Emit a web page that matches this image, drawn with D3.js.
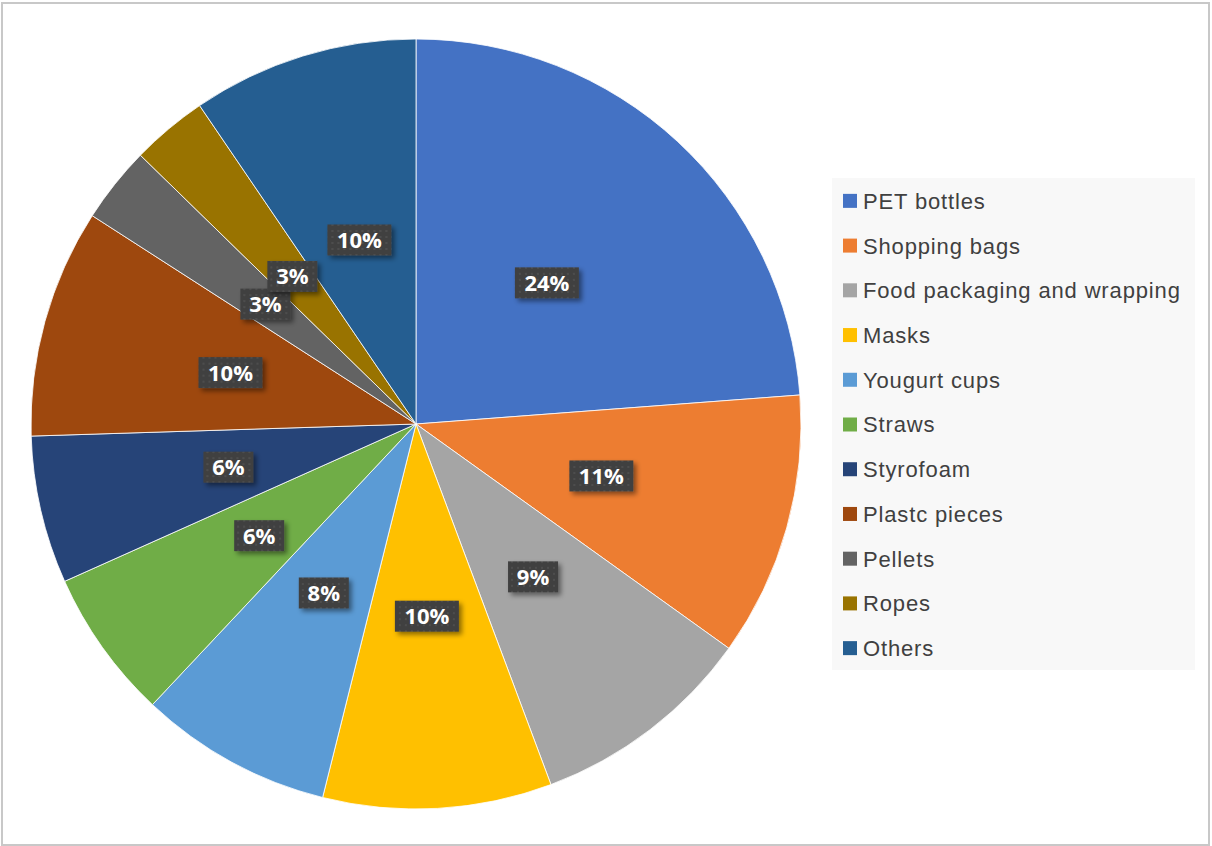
<!DOCTYPE html>
<html>
<head>
<meta charset="utf-8">
<title>Plastic litter composition</title>
<script src="https://d3js.org/d3.v7.min.js"></script>
<style>
  body { margin: 0; background: #fff; }
</style>
</head>
<body>
<svg id="chart" width="1212" height="846"></svg>
<script>
// categories and shares (%)
var categories = ["PET bottles", "Shopping bags", "Food packaging and wrapping", "Masks",
                  "Yougurt cups", "Straws", "Styrofoam", "Plastc pieces", "Pellets", "Ropes", "Others"];
var values = [23.8, 11.1, 9.4, 9.6, 8.1, 6.3, 6.2, 9.6, 3.2, 3.2, 9.5];
var colors = ["#4472C4", "#ED7D31", "#A5A5A5", "#FFC000", "#5B9BD5", "#70AD47",
              "#264478", "#9E480E", "#636363", "#997300", "#255E91"];

var svg = d3.select("#chart");
var total = d3.sum(values);

// outer frame
svg.append("rect")
    .attr("x", 2).attr("y", 3)
    .attr("width", 1207).attr("height", 842)
    .attr("fill", "none")
    .attr("stroke", "#c8c8c8")
    .attr("stroke-width", 2);

var defs = svg.append("defs");
var pat = defs.append("pattern")
    .attr("id", "dots")
    .attr("width", 6).attr("height", 6)
    .attr("patternUnits", "userSpaceOnUse");
pat.append("rect").attr("width", 6).attr("height", 6).attr("fill", "#404040");
pat.append("rect").attr("x", 2).attr("y", 2).attr("width", 2).attr("height", 2).attr("fill", "#4e4e4e");

var shadow = defs.append("filter").attr("id", "shadow")
    .attr("x", "-20%").attr("y", "-20%").attr("width", "150%").attr("height", "160%");
shadow.append("feDropShadow")
    .attr("dx", 3).attr("dy", 3).attr("stdDeviation", 2.5)
    .attr("flood-color", "#000").attr("flood-opacity", 0.45);

var cx = 416, cy = 424, radius = 385;

var pie = d3.pie().sort(null).value(d => d);
var arcs = pie(values);
var arc = d3.arc().innerRadius(0).outerRadius(radius);

var g = svg.append("g").attr("transform", "translate(" + cx + "," + cy + ")");

g.selectAll("path.slice")
    .data(arcs)
    .enter()
    .append("path")
    .attr("class", "slice")
    .attr("d", arc)
    .attr("fill", (d, i) => colors[i])
    .attr("stroke", "#fff")
    .attr("stroke-width", 0.8);

// data labels
var labels = g.selectAll("g.lbl")
    .data(arcs)
    .enter()
    .append("g")
    .attr("class", "lbl")
    .attr("transform", d => "translate(" + arc.centroid(d) + ")");

labels.each(function(d) {
    var txt = Math.round(d.value * 100 / total) + "%";
    var w = txt.length === 2 ? 50 : 64;
    var sel = d3.select(this);
    sel.append("rect")
        .attr("x", -w / 2).attr("y", -15.5)
        .attr("width", w).attr("height", 31)
        .attr("fill", "url(#dots)")
        .attr("filter", "url(#shadow)");
    sel.append("text")
        .attr("text-anchor", "middle")
        .attr("dy", "0.36em")
        .attr("fill", "#fff")
        .style("font-family", "'Open Sans', 'Liberation Sans', sans-serif")
        .style("font-weight", "bold")
        .style("font-size", "22px")
        .text(txt);
});

// legend
var legend = svg.append("g");
legend.append("rect")
    .attr("x", 832).attr("y", 178)
    .attr("width", 363).attr("height", 492)
    .attr("fill", "#f8f8f8");

var ly = d3.scaleBand().domain(categories).range([178.5, 670.5]);

var items = legend.selectAll("g.item")
    .data(categories)
    .enter()
    .append("g")
    .attr("class", "item")
    .attr("transform", d => "translate(0," + (ly(d) + ly.bandwidth() / 2) + ")");

items.append("rect")
    .attr("x", 843).attr("y", -7)
    .attr("width", 14).attr("height", 14)
    .attr("fill", (d, i) => colors[i]);

items.append("text")
    .attr("x", 863)
    .attr("dy", "0.36em")
    .attr("fill", "#404040")
    .style("font-family", "'Liberation Sans', Arial, sans-serif")
    .style("font-size", "22px")
    .style("letter-spacing", "0.85px")
    .text(d => d);
</script>
</body>
</html>
